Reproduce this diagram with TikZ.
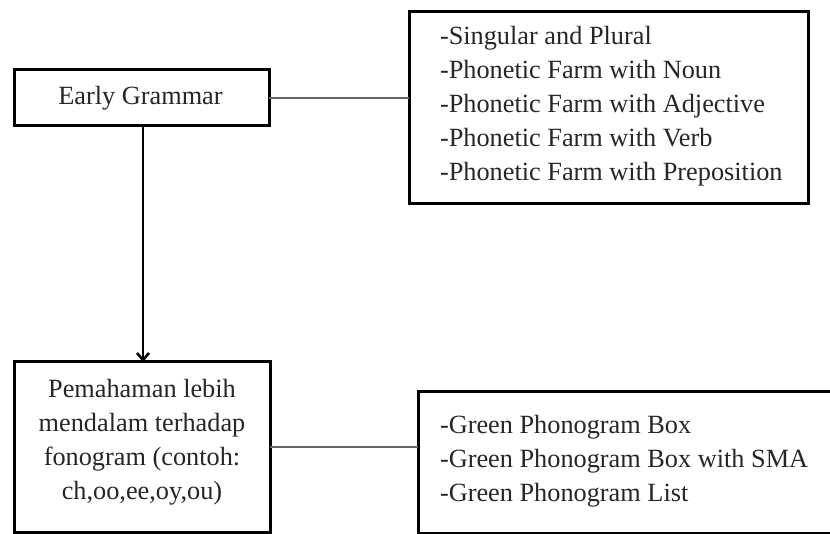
\documentclass[tikz,border=0pt]{standalone}
\usepackage{fontspec}
\setmainfont{Liberation Serif}
\usetikzlibrary{arrows.meta}
\begin{document}
\begin{tikzpicture}[x=1pt,y=-1pt,
  box/.style={draw=black, line width=3pt, inner sep=0pt, outer sep=0pt},
  txt/.style={inner sep=0pt, outer sep=0pt, text=black!85, font=\fontsize{26.3}{34}\selectfont},
  conn/.style={draw=black!60, line width=1.5pt},
  arr/.style={draw=black, line width=2.6pt, -{Straight Barb[length=7pt,width=12pt,line width=2.6pt]}}]
\useasboundingbox (0,0) rectangle (830,534);
\clip (0,0) rectangle (830,534);
\node[box, minimum width=255pt, minimum height=56pt] (eg) at (141.5,98) {};
\node[txt] (egt) at (140.5,98) {Early Grammar};
\node[box, minimum width=399pt, minimum height=192pt] (sp) at (608.5,108) {};
\node[txt, anchor=west, align=left] (spt) at (440,106.5) {-Singular and Plural\\-Phonetic Farm with Noun\\-Phonetic Farm with Adjective\\-Phonetic Farm with Verb\\-Phonetic Farm with Preposition};
\node[box, minimum width=256pt, minimum height=170pt] (pl) at (142,447) {};
\node[txt, align=center] (plt) at (142,442.5) {Pemahaman lebih\\mendalam terhadap\\fonogram (contoh:\\ch,oo,ee,oy,ou)};
\node[box, minimum width=432pt, minimum height=141pt] (gb) at (634,462.5) {};
\node[txt, anchor=west, align=left] (gbt) at (440,461.5) {-Green Phonogram Box\\-Green Phonogram Box with SMA\\-Green Phonogram List};
\draw[conn] (eg.east) -- (eg.east -| sp.west);
\draw[conn] (pl.east) -- (pl.east -| gb.west);
\draw[arr] ([xshift=1.5pt]eg.south) -- ([xshift=1pt]pl.north);
\end{tikzpicture}
\end{document}
